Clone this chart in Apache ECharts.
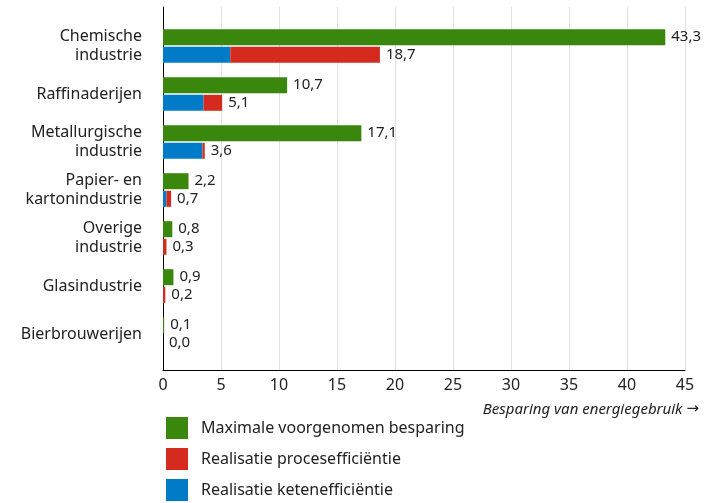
<!DOCTYPE html>
<html>
<head>
<meta charset="utf-8">
<script src="https://cdn.jsdelivr.net/npm/echarts@6/dist/echarts.min.js"></script>
<style>html,body{margin:0;padding:0;background:#fff}#c{width:717px;height:503px}</style>
</head>
<body>
<div id="c"></div>
<script>
const categories = ['Chemische\nindustrie','Raffinaderijen','Metallurgische\nindustrie','Papier- en\nkartonindustrie','Overige\nindustrie','Glasindustrie','Bierbrouwerijen'];
const maxVals = [43.3, 10.7, 17.1, 2.2, 0.8, 0.9, 0.1];
const ketenVals = [5.8, 3.5, 3.4, 0.3, 0, 0, 0];
const procesVals = [12.9, 1.6, 0.2, 0.4, 0.3, 0.2, 0];
const totals = [18.7, 5.1, 3.6, 0.7, 0.3, 0.2, 0.0];
const xTicks = [0, 5, 10, 15, 20, 25, 30, 35, 40, 45];

const FONT = 'Noto Sans';
const TXT = '#222';
const fmt = v => v.toFixed(1).replace('.', ',');

const chart = echarts.init(document.getElementById('c'), null, {renderer: 'canvas'});
chart.setOption({
  animation: false,
  textStyle: {fontFamily: FONT},
  title: {
    text: '{a|Besparing van energiegebruik} {b|\u2192}',
    right: 18, top: 402, padding: 0,
    textStyle: {
      fontFamily: FONT, fontStyle: 'italic', fontWeight: 'normal', fontSize: 15, color: TXT,
      rich: {
        a: {fontFamily: FONT, fontStyle: 'italic', fontSize: 15, color: TXT},
        b: {fontFamily: 'DejaVu Sans', fontSize: 15, color: TXT}
      }
    }
  },
  legend: {
    orient: 'vertical', left: 166, top: 417, padding: 0,
    itemWidth: 22, itemHeight: 22, itemGap: 9,
    icon: 'rect',
    data: ['Maximale voorgenomen besparing', 'Realisatie procesefficiëntie', 'Realisatie ketenefficiëntie'],
    textStyle: {fontFamily: FONT, fontSize: 16, color: TXT, padding: [0, 0, 0, 8]}
  },
  grid: [
    {left: 163, top: 7, width: 522, height: 363, containLabel: false},
    {left: 163, top: 22, width: 522, height: 336, containLabel: false}
  ],
  xAxis: [
    {
      gridIndex: 0, type: 'value', min: xTicks[0], max: xTicks[xTicks.length - 1], interval: 5,
      axisLine: {show: true, lineStyle: {color: '#000', width: 1}},
      axisTick: {show: false},
      axisLabel: {fontFamily: FONT, fontSize: 16, color: TXT, margin: 7},
      splitLine: {show: true, lineStyle: {color: '#e2e2e2', width: 1}}
    },
    {
      gridIndex: 1, type: 'value', min: xTicks[0], max: xTicks[xTicks.length - 1],
      show: false, splitLine: {show: false}
    }
  ],
  yAxis: [
    {
      gridIndex: 0, type: 'value', min: 0, max: 1,
      axisLine: {show: true, lineStyle: {color: '#000', width: 1}},
      axisTick: {show: false}, axisLabel: {show: false}, splitLine: {show: false}
    },
    {
      gridIndex: 1, type: 'category', data: categories, inverse: true,
      axisLine: {show: false}, axisTick: {show: false},
      axisLabel: {fontFamily: FONT, fontSize: 16, color: TXT, margin: 21, lineHeight: 19, align: 'right'}
    }
  ],
  series: [
    {
      name: 'Maximale voorgenomen besparing', type: 'bar',
      xAxisIndex: 1, yAxisIndex: 1,
      data: maxVals, barWidth: 16, barGap: '10%',
      itemStyle: {color: '#39870c'},
      label: {show: true, position: 'right', distance: 6, fontFamily: FONT, fontSize: 15, color: TXT,
        formatter: p => fmt(p.value)}
    },
    {
      name: 'Realisatie ketenefficiëntie', type: 'bar', stack: 'real',
      xAxisIndex: 1, yAxisIndex: 1,
      data: ketenVals, barWidth: 16, barGap: '10%',
      itemStyle: {color: '#007bc7'}
    },
    {
      name: 'Realisatie procesefficiëntie', type: 'bar', stack: 'real',
      xAxisIndex: 1, yAxisIndex: 1,
      data: procesVals, barWidth: 16, barGap: '10%',
      itemStyle: {color: '#d52b1e'},
      label: {show: true, position: 'right', distance: 6, fontFamily: FONT, fontSize: 15, color: TXT,
        formatter: p => fmt(totals[p.dataIndex])}
    }
  ]
});
</script>
</body>
</html>
